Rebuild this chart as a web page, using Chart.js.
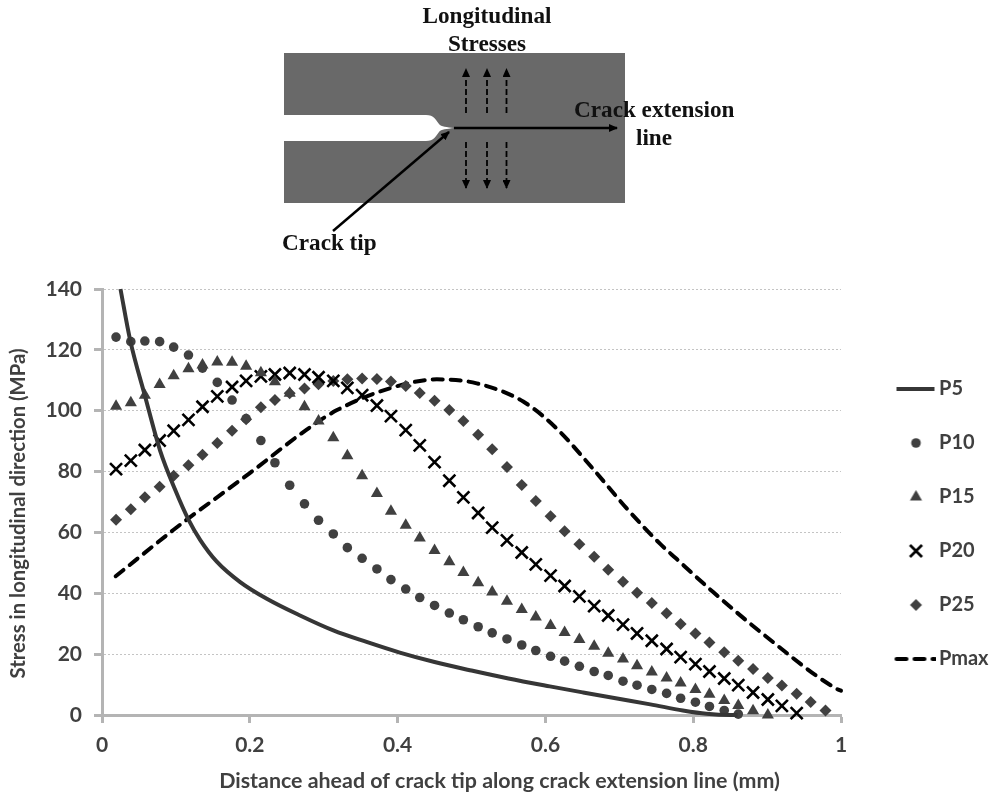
<!DOCTYPE html>
<html>
<head>
<meta charset="utf-8">
<title>Longitudinal stresses</title>
<script src="https://cdn.jsdelivr.net/npm/chart.js@4"></script>
<style>
  html, body { margin: 0; padding: 0; background: #fff; }
  #wrap { position: relative; width: 995px; height: 799px; overflow: hidden; }
  #chartMain { position: absolute; left: 0; top: 0; }
  #sketch { position: absolute; left: 0; top: 0; }
  #sketch text { font-family: "Liberation Serif", serif; font-weight: bold; font-size: 23.2px; fill: #111; }
</style>
</head>
<body>
<div id="wrap">
  <canvas id="chartMain" width="995" height="799"></canvas>
  <!-- crack sketch above the chart -->
  <svg id="sketch" width="995" height="270" xmlns="http://www.w3.org/2000/svg">
    <defs>
      <marker id="head" markerWidth="9" markerHeight="8" refX="8" refY="4" orient="auto" markerUnits="userSpaceOnUse">
        <path d="M0 0 L9 4 L0 8 Z" fill="#000"></path>
      </marker>
    </defs>
    <rect x="284" y="53" width="341" height="150" fill="#696969"></rect>
    <path d="M284 115 L426 115 C434 115 436 120 439 124 C441 127 447 127 454 128 C447 129 441 129 439 132 C436 136 434 141 426 141 L284 141 Z" fill="#fff"></path>
    <line x1="454" y1="128" x2="617" y2="128" stroke="#000" stroke-width="2.5" marker-end="url(#head)"></line>
    <line x1="333" y1="231" x2="449" y2="132" stroke="#000" stroke-width="2.5" marker-end="url(#head)"></line>
    <g stroke="#000" stroke-width="1.8" stroke-dasharray="6 3" marker-end="url(#head)">
      <line x1="466" y1="113" x2="466" y2="69"></line>
      <line x1="487" y1="113" x2="487" y2="69"></line>
      <line x1="506.5" y1="113" x2="506.5" y2="69"></line>
      <line x1="466" y1="142" x2="466" y2="188"></line>
      <line x1="487" y1="142" x2="487" y2="188"></line>
      <line x1="506.5" y1="142" x2="506.5" y2="188"></line>
    </g>
    <text x="487" y="23" text-anchor="middle">Longitudinal</text>
    <text x="487" y="51" text-anchor="middle">Stresses</text>
    <text x="574" y="117">Crack extension</text>
    <text x="654" y="145" text-anchor="middle">line</text>
    <text x="282" y="250">Crack tip</text>
  </svg>
</div>

<script>
// measuring points shared by the marker series
const xPoints = [0.019,0.039,0.058,0.078,0.097,0.117,0.136,0.156,0.176,0.195,
                 0.215,0.234,0.254,0.274,0.293,0.313,0.332,0.352,0.372,0.391,
                 0.411,0.430,0.450,0.470,0.489,0.509,0.528,0.548,0.568,0.587,
                 0.607,0.626,0.646,0.666,0.685,0.705,0.724,0.744,0.764,0.783,
                 0.803,0.822,0.842,0.861,0.881,0.901,0.920,0.940,0.959,0.979];

const p10Vals = [124.2,122.7,122.9,122.7,120.9,118.3,114,109.3,103.5,97.4,
                 90.2,82.9,75.5,69.4,64,59.5,55,51.5,48,44.5,
                 41.4,38.6,36,33.5,31.3,29,27,25,23,21.2,
                 19.3,17.7,16,14.3,13,11.1,9.8,8.4,7.1,5.5,
                 4.2,2.8,1.5,0.3];
const p15Vals = [101.5,102.6,105.1,108.6,111.5,113.8,115,116,115.9,114.6,
                 112.5,109.5,105.7,101.3,96.6,91.1,85.2,78.6,72.8,67,
                 62.4,58.2,54.1,50.4,46.8,43.5,40.4,37.4,34.7,32.2,
                 29.4,27.1,24.8,22.6,20.3,18.4,16.2,14.1,12.2,10.5,
                 8.4,6.8,4.8,3.1,1.4,0];
const p20Vals = [80.8,83.6,87.1,90.2,93.4,97,101.3,104.7,107.8,109.8,
                 111.3,111.9,112.4,111.9,111,109.8,107.5,105.1,101.7,98.2,
                 93.6,88.6,83.1,77,71.5,66.4,61.6,57.4,53.4,49.5,
                 45.8,42.4,39,35.8,32.7,29.7,26.8,24.4,21.7,19,
                 16.7,14.3,12,9.8,7.4,5.1,3,0.6];
const p25Vals = [64.2,67.6,71.6,75,78.6,82.1,85.5,89.4,93.4,97.2,
                 101.1,103.5,105.7,107.3,108.7,109.8,110.3,110.6,110.4,109.6,
                 108.1,105.8,103.3,100.2,96.6,92.1,87.3,81.5,75.6,70.3,
                 65.3,60.4,56.1,52,47.7,43.8,40.2,36.8,33.4,29.9,
                 26.8,23.8,20.6,17.8,15.1,12.2,9.7,7,4.3,1.5];

// the two continuous curves
const p5X    = [0.025,0.038,0.058,0.0785,0.099,0.117,0.133,0.155,0.187,0.223,0.268,0.313,0.358,0.403,0.45,0.5,0.55,0.606,0.651,0.697,0.742,0.786,0.818,0.85,0.86];
const p5Vals = [140,123.3,105,87,74,64.2,57.5,50.5,43.7,38.2,32.7,27.8,24,20.5,17.4,14.6,12,9.4,7.4,5.4,3.5,1.5,0.4,0,0];
const pmaxX    = [0.0185,0.096,0.117,0.2,0.277,0.318,0.39,0.453,0.507,0.57,0.615,0.664,0.71,0.755,0.777,0.827,0.894,0.994,1];
const pmaxVals = [45.6,60.7,64.6,79.5,93.8,100.2,107.4,110.3,109,103,94.2,81,67.9,56.3,51.4,40.4,26.7,8.6,8];

const yTicks = [0,20,40,60,80,100,120,140];
const xTicks = [0,0.2,0.4,0.6,0.8,1];

const seriesNames = ["P5","P10","P15","P20","P25","Pmax"];

const darkGray = "#404040";
const axisGray = "#b4b4b4";
const fontName = "Lato, 'Noto Sans', sans-serif";
const pmaxDash = [10,8];

function toPoints(xs, ys){
	let arr = [];
	for(let i=0; i < ys.length; i++){
		arr.push({x: xs[i], y: ys[i]});
	}
	return arr;
}

// small canvases for the legend, point styles get stretched once pointStyleWidth is set
function legendIcon(ds){
	let c = document.createElement("canvas");
	c.width = 46;
	c.height = 18;
	let g = c.getContext("2d");
	g.fillStyle = ds.backgroundColor;
	g.strokeStyle = ds.borderColor;
	if(ds.showLine){
		g.lineWidth = ds.borderWidth;
		g.lineCap = ds.borderCapStyle || "butt";
		g.setLineDash(ds.borderDash || []);
		g.beginPath();
		g.moveTo(7,9);
		g.lineTo(45,9);
		g.stroke();
	}else{
		g.lineWidth = ds.pointBorderWidth || 0;
		Chart.helpers.drawPoint(g, {
			pointStyle: ds.pointStyle,
			radius: ds.pointRadius,
			rotation: 0,
			borderWidth: ds.pointBorderWidth || 0
		}, 26.5, 9);
	}
	return c;
}

// move an axis title off the centre of its scale
function shiftTitle(scale, dx, dy){
	let oldDraw = scale.drawTitle.bind(scale);
	scale.drawTitle = function(){
		scale.ctx.save();
		scale.ctx.translate(dx, dy);
		oldDraw();
		scale.ctx.restore();
	};
}

// legend sits further right than its own width would put it
const chartPlace = {
	id: "chartPlace",
	beforeLayout(chart){
		let lg = chart.legend;
		if(!lg.patched){
			let oldFit = lg.fit.bind(lg);
			lg.fit = function(){ oldFit(); this.width = 154; };
			lg.patched = true;
		}
	},
	afterLayout(chart){
		let lg = chart.legend;
		lg.left = 862;
		lg.top -= 20;
		lg.bottom -= 20;
		shiftTitle(chart.scales.x, 28, 0);
		shiftTitle(chart.scales.y, -4, 11.5);
	}
};

const chartArea1 = document.getElementById("chartMain").getContext("2d");

new Chart(chartArea1, {
	type: "scatter",
	plugins: [chartPlace],
	data: {
		datasets: [
			{ label: seriesNames[0], data: toPoints(p5X, p5Vals), showLine: true, cubicInterpolationMode: "monotone",
			  borderColor: "#363636", backgroundColor: "#363636", borderWidth: 4, pointRadius: 0, clip: false },
			{ label: seriesNames[1], data: toPoints(xPoints, p10Vals), showLine: false, pointStyle: "circle", pointRadius: 4.8,
			  backgroundColor: darkGray, borderColor: darkGray, borderWidth: 0, clip: false },
			{ label: seriesNames[2], data: toPoints(xPoints, p15Vals), showLine: false, pointStyle: "triangle", pointRadius: 7,
			  backgroundColor: darkGray, borderColor: darkGray, borderWidth: 0, clip: false },
			{ label: seriesNames[3], data: toPoints(xPoints, p20Vals), showLine: false, pointStyle: "crossRot", pointRadius: 8.5,
			  backgroundColor: "#000", borderColor: "#000", pointBorderWidth: 2.6, clip: false },
			{ label: seriesNames[4], data: toPoints(xPoints, p25Vals), showLine: false, pointStyle: "rectRot", pointRadius: 6,
			  backgroundColor: darkGray, borderColor: darkGray, borderWidth: 0, clip: false },
			{ label: seriesNames[5], data: toPoints(pmaxX, pmaxVals), showLine: true, cubicInterpolationMode: "monotone",
			  borderColor: "#000", backgroundColor: "#000", borderWidth: 4, borderDash: pmaxDash, borderCapStyle: "round", pointRadius: 0, clip: false }
		]
	},
	options: {
		responsive: false,
		animation: false,
		layout: { padding: { top: 289, left: 10, right: 0, bottom: 0 } },
		plugins: {
			title: { display: false },
			tooltip: { enabled: false },
			legend: {
				position: "right",
				align: "center",
				labels: {
					usePointStyle: true,
					pointStyleWidth: 33,
					boxHeight: 9,
					padding: 34,
					color: darkGray,
					font: { family: fontName, size: 20, weight: "bold" },
					generateLabels: function(chart){
						return chart.data.datasets.map((ds, idx)=>({
							text: ds.label,
							datasetIndex: idx,
							fontColor: darkGray,
							pointStyle: legendIcon(ds),
							fillStyle: ds.backgroundColor,
							strokeStyle: ds.borderColor,
							lineWidth: 0
						}));
					}
				}
			}
		},
		scales: {
			x: {
				type: "linear",
				min: 0,
				max: 1,
				afterBuildTicks: function(s){ s.ticks = xTicks.map(v=>({value: v})); },
				afterFit: function(s){ s.height = 84; },
				border: { color: axisGray, width: 3 },
				grid: { drawOnChartArea: false, drawTicks: true, tickLength: 8, tickColor: axisGray, tickWidth: 3 },
				ticks: { color: darkGray, padding: 10, maxRotation: 0, callback: v=>String(v), font: { family: fontName, size: 21, weight: "bold" } },
				title: {
					display: true,
					text: "Distance ahead of crack tip along crack extension line (mm)",
					color: darkGray,
					padding: { top: 0, bottom: 5 },
					font: { family: fontName, size: 21.4, weight: "bold" }
				}
			},
			y: {
				min: 0,
				max: 140,
				afterBuildTicks: function(s){ s.ticks = yTicks.map(v=>({value: v})); },
				afterFit: function(s){ s.width = 92; },
				border: { color: axisGray, width: 3, dash: [2,2] },
				grid: { color: "#c4c4c4", lineWidth: 1, drawTicks: true, tickLength: 8, tickColor: axisGray, tickWidth: 3, tickBorderDash: [] },
				ticks: { color: darkGray, padding: 12, callback: v=>String(v), font: { family: fontName, size: 21, weight: "bold" } },
				title: {
					display: true,
					text: "Stress in longitudinal direction (MPa)",
					color: darkGray,
					padding: { top: 0, bottom: 0 },
					font: { family: fontName, size: 20.3, weight: "bold" }
				}
			}
		}
	}
});
</script>
</body>
</html>
